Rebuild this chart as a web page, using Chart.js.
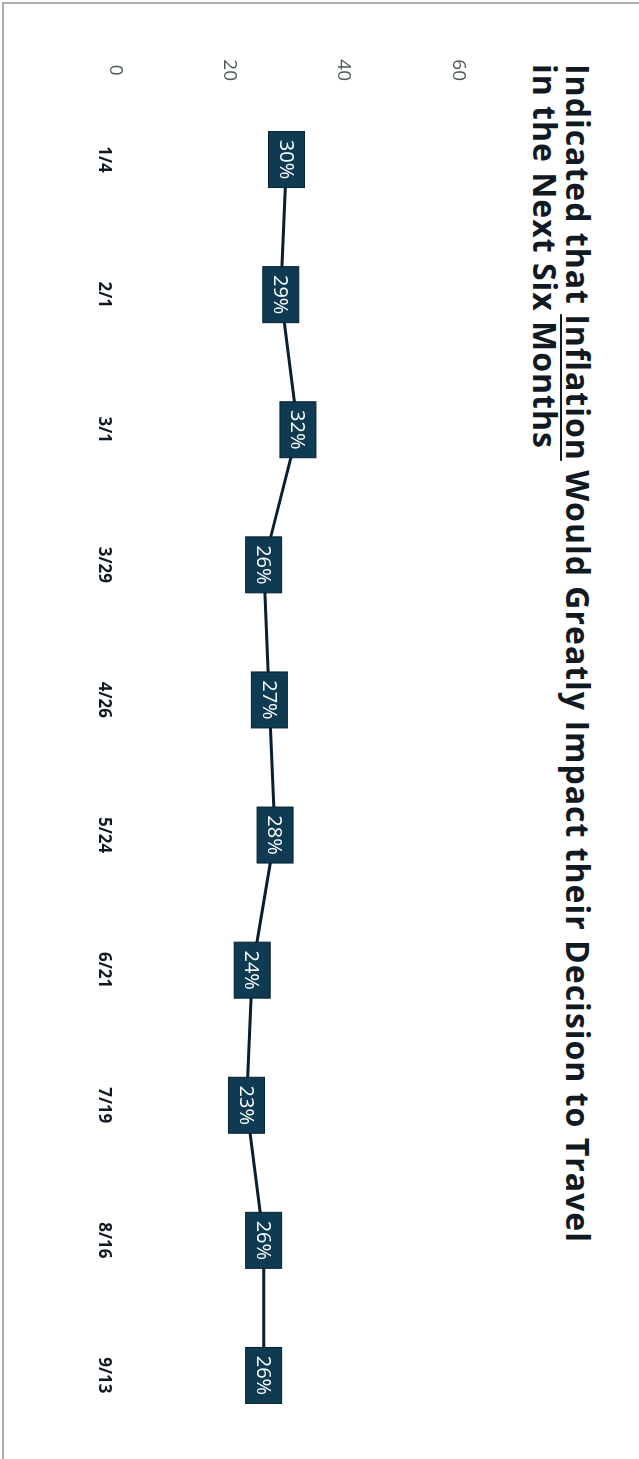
<!DOCTYPE html>
<html>
<head>
<meta charset="utf-8">
<script src="https://cdn.jsdelivr.net/npm/chart.js@4/dist/chart.umd.min.js"></script>
<style>
    html, body { margin: 0; padding: 0; background: #fff; }
    body { width: 639px; height: 1459px; overflow: hidden; position: relative; }
    .scanEdge {
        position: absolute; left: 2px; top: 2px; width: 637px; height: 1457px;
        border-top: 2px solid #a9aeae; border-left: 2px solid #a9aeae;
    }
    .sheet {
        position: absolute; left: 0; top: 0; width: 1459px; height: 639px;
        transform-origin: 0 0;
        transform: translate(639px, 0) rotate(90deg);
    }
    .sheet h1 {
        position: absolute; left: 64px; top: 44px; margin: 0; white-space: nowrap;
        font-family: "Open Sans", sans-serif; font-weight: 700; font-size: 32px; line-height: 33px;
        letter-spacing: 1px; color: #111a22;
    }
    .sheet h1 u { text-decoration-thickness: 2px; text-underline-offset: 4px; }
    #chartInflation { position: absolute; left: 0; top: 0; }
</style>
</head>
<body>
<div class="scanEdge"></div>
<div class="sheet">
    <h1>Indicated that <u>Inflation</u> Would Greatly Impact their Decision to Travel<br>in the Next Six Months</h1>
    <canvas id="chartInflation" width="1459" height="639"></canvas>
</div>
<script>
var surveyDates = ["1/4", "2/1", "3/1", "3/29", "4/26", "5/24", "6/21", "7/19", "8/16", "9/13"];
var inflationShare = [30, 29, 32, 26, 27, 28, 24, 23, 26, 26];
var shareTicks = [0, 20, 40, 60];

// boxes with the percentage on top of every point
var valueBoxes = {
    id: 'valueBoxes',
    afterDatasetsDraw: function(chart) {
        var ctx = chart.ctx;
        var meta = chart.getDatasetMeta(0);
        ctx.save();
        ctx.font = '20px "Open Sans"';
        ctx.textAlign = 'center';
        ctx.textBaseline = 'middle';
        meta.data.forEach(function(point, i) {
            ctx.fillStyle = "rgba(14, 58, 82, 1)";
            ctx.fillRect(point.x - 28, point.y - 18, 56, 36);
            ctx.strokeStyle = "rgba(8, 34, 50, 1)";
            ctx.lineWidth = 1;
            ctx.strokeRect(point.x - 28, point.y - 18, 56, 36);
            ctx.fillStyle = "#ffffff";
            ctx.fillText(inflationShare[i] + '%', point.x, point.y + 1);
        });
        ctx.restore();
    }
};

var canvas = document.querySelector("#chartInflation").getContext("2d");
var inflationChart = new Chart(canvas, {
    type: 'line',
    data: {
        labels: surveyDates,
        datasets: [{
            label: "Inflation",
            data: inflationShare,
            borderColor: "rgba(10, 30, 46, 1)",
            borderWidth: 3,
            pointRadius: 0,
            tension: 0,
            fill: false
        }]
    },
    options: {
        responsive: false,
        animation: false,
        devicePixelRatio: 1,
        layout: {
            padding: { top: 181, right: 16, bottom: 93, left: 0 }
        },
        plugins: {
            legend: { display: false },
            title: { display: false },
            tooltip: { enabled: false }
        },
        scales: {
            x: {
                offset: true,
                grid: { display: false, drawTicks: false },
                border: { display: false },
                ticks: {
                    padding: 1,
                    color: "#111a22",
                    font: { family: 'Open Sans', size: 17, weight: 'bold' }
                },
                afterFit: function(scale) { scale.height = 22; }
            },
            y: {
                min: 0,
                max: 60,
                grid: { display: false, drawTicks: false },
                border: { display: false },
                ticks: {
                    padding: 11,
                    crossAlign: 'center',
                    color: "#4b5955",
                    font: { family: 'Open Sans', size: 19 }
                },
                afterBuildTicks: function(scale) {
                    scale.ticks = shareTicks.map(function(v) { return { value: v }; });
                },
                afterFit: function(scale) { scale.width = 92; }
            }
        }
    },
    plugins: [valueBoxes]
});
</script>
</body>
</html>
